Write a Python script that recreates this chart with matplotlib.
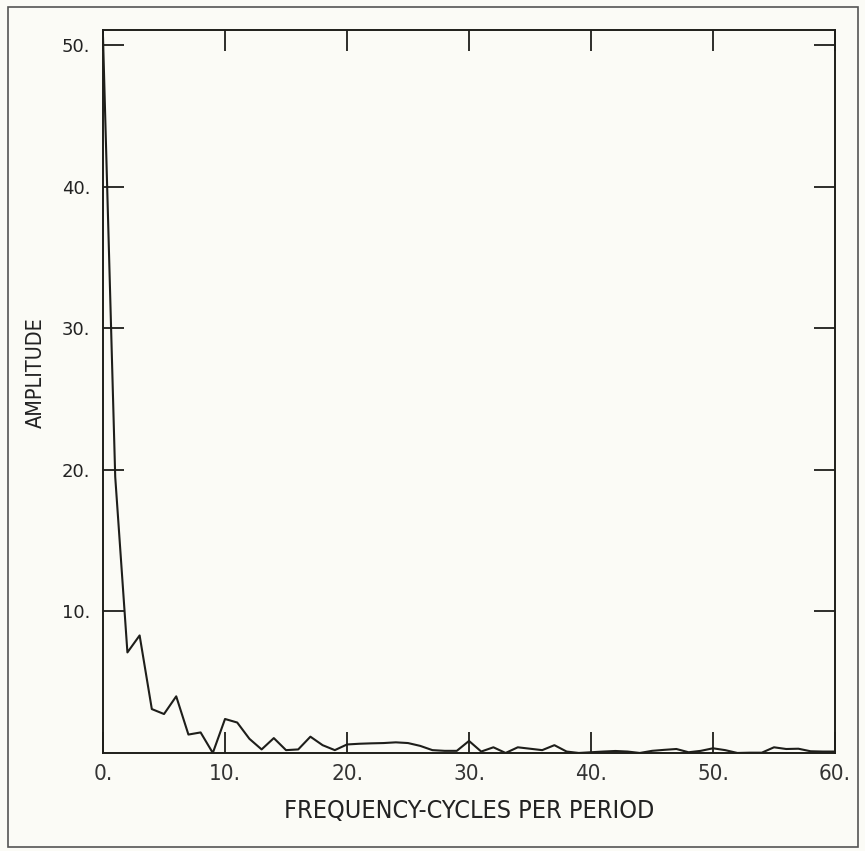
import numpy as np
import matplotlib.pyplot as plt
from matplotlib.patches import Rectangle
from matplotlib import font_manager

# amplitude spectrum, one value per cycle/period
freq = np.arange(0, 61)
amp = [50.5, 19.5, 7.1, 8.3, 3.1, 2.75, 4.0, 1.3, 1.45, 0.0,
       2.4, 2.15, 1.0, 0.25, 1.05, 0.2, 0.25, 1.15, 0.55, 0.2,
       0.6, 0.65, 0.68, 0.7, 0.75, 0.7, 0.5, 0.2, 0.15, 0.15,
       0.85, 0.1, 0.4, 0.0, 0.4, 0.3, 0.2, 0.55, 0.1, 0.0,
       0.05, 0.1, 0.14, 0.1, 0.0, 0.15, 0.22, 0.28, 0.05, 0.15,
       0.33, 0.2, 0.0, 0.02, 0.02, 0.4, 0.28, 0.3, 0.12, 0.1,
       0.1]

xticks = [0, 10, 20, 30, 40, 50, 60]
yticks = [10, 20, 30, 40, 50]

ink = '#1e1e1a'
paper = '#fbfbf6'

# narrow lettering for the x axis and the y label
tick_font = font_manager.FontProperties(family='DejaVu Sans', stretch='condensed', size=16)
xlab_font = tick_font.copy()
xlab_font.set_size(18)
ylab_font = tick_font.copy()
ylab_font.set_size(15.5)

fig = plt.figure(figsize=(8.65, 8.51), dpi=100, facecolor=paper)
ax = fig.add_axes([0.1191, 0.1152, 0.8462, 0.8496], facecolor=paper)

ax.plot(freq, amp, color=ink, lw=1.5)

ax.set_xlim(0, 60)
ax.set_ylim(0, 51.06)
ax.set_xticks(xticks)
ax.set_xticklabels([f"{t}." for t in xticks], fontproperties=tick_font, color='#333')
ax.set_yticks(yticks)
ax.set_yticklabels([f"{t}." for t in yticks], family='DejaVu Sans', fontsize=13, color='#222')

ax.tick_params(axis='both', direction='in', length=15, width=1.3, color=ink,
               top=True, right=True)
ax.tick_params(axis='x', pad=8)
ax.tick_params(axis='y', pad=9)

for s in ax.spines.values():
    s.set_color(ink)
    s.set_linewidth(1.4)

ax.set_xlabel("FREQUENCY-CYCLES PER PERIOD", fontproperties=xlab_font, color='#222')
ax.xaxis.set_label_coords(0.5, -0.064)
ax.set_ylabel("AMPLITUDE", fontproperties=ylab_font, color='#222')
ax.yaxis.set_label_coords(-0.078, 0.526)

# page frame
fig.patches.append(Rectangle((8 / 865, 4 / 851), 850 / 865, 840 / 851,
                             transform=fig.transFigure, fill=False,
                             edgecolor='#555', lw=1.2))

fig.savefig("out.png", dpi=100, facecolor=paper)
